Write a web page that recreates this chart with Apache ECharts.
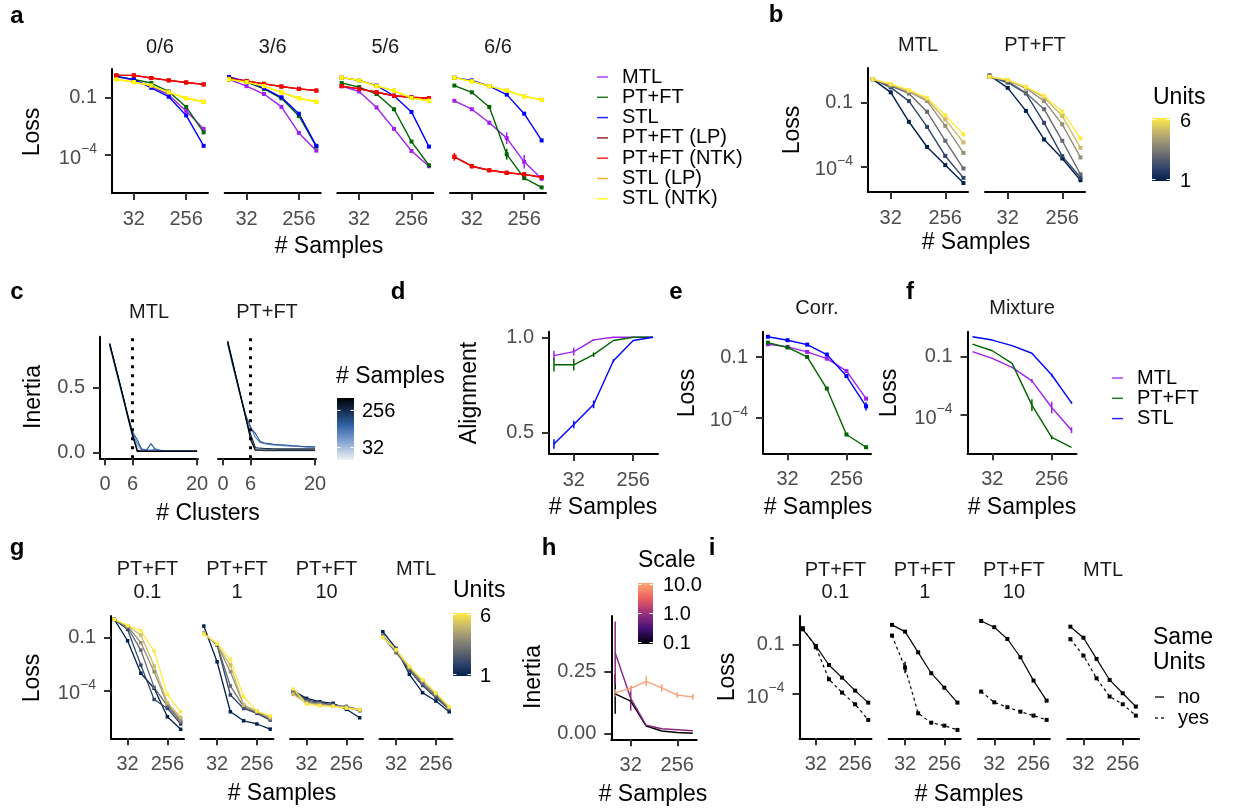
<!DOCTYPE html>
<html><head><meta charset="utf-8">
<script src="https://cdn.jsdelivr.net/npm/echarts@6/dist/echarts.min.js"></script>
<style>html,body{margin:0;padding:0;background:#fff}#c{width:1246px;height:809px}</style>
</head><body><div id="c"></div>
<script>
// ================= DATA =================
// x values: number of samples (log2 axis); loss values stored as log10(loss)
const samples = [16, 32, 64, 128, 256, 512];
const sampleTicks = [32, 256];
const lossTicks = [-1, -4];          // log10 of 0.1 and 1e-4

// ---- panel a (facets 0/6, 3/6, 5/6, 6/6) ----
const aFacetLabels = ['0/6', '3/6', '5/6', '6/6'];
const aMethods = ['MTL', 'PT+FT', 'STL', 'PT+FT (LP)', 'PT+FT (NTK)', 'STL (LP)', 'STL (NTK)'];
const a0_MTL     = [0.09, -0.12, -0.42, -0.88, -1.71, -2.64];
const a0_PTFT    = [0.06, -0.07, -0.26, -0.70, -1.50, -2.82];
const a0_STL     = [0.09, -0.07, -0.51, -0.97, -1.94, -3.52];
const a0_PTFT_LP = [0.14, 0.14, 0.00, -0.12, -0.23, -0.33];
const a0_PTFT_NTK= [0.14, 0.14, 0.00, -0.12, -0.23, -0.33];
const a0_STL_LP  = [-0.07, -0.21, -0.39, -0.74, -1.05, -1.23];
const a0_STL_NTK = [-0.07, -0.21, -0.39, -0.74, -1.05, -1.23];

const a3_MTL     = [-0.07, -0.42, -0.83, -1.50, -2.85, -3.77];
const a3_PTFT    = [-0.07, -0.21, -0.56, -1.05, -1.97, -3.56];
const a3_STL     = [0.06, -0.17, -0.52, -1.00, -1.85, -3.52];
const a3_PTFT_LP = [-0.03, -0.15, -0.30, -0.44, -0.56, -0.65];
const a3_PTFT_NTK= [-0.03, -0.15, -0.30, -0.44, -0.56, -0.65];
const a3_STL_LP  = [-0.07, -0.21, -0.42, -0.74, -1.05, -1.23];
const a3_STL_NTK = [-0.07, -0.21, -0.42, -0.74, -1.05, -1.23];

const a5_MTL     = [-0.42, -0.70, -1.53, -2.64, -3.79, -4.58];
const a5_PTFT    = [-0.26, -0.47, -0.83, -1.62, -3.30, -4.53];
const a5_STL     = [0.02, -0.12, -0.39, -0.92, -1.76, -3.56];
const a5_PTFT_LP = [-0.42, -0.56, -0.74, -0.92, -1.00, -1.05];
const a5_PTFT_NTK= [-0.42, -0.56, -0.74, -0.92, -1.00, -1.05];
const a5_STL_LP  = [0.02, -0.12, -0.42, -0.65, -1.04, -1.18];
const a5_STL_NTK = [0.02, -0.12, -0.42, -0.65, -1.04, -1.18];

const a6_MTL     = [-1.18, -1.62, -2.32, -3.12, -4.35, -5.23];
const a6_PTFT    = [-0.39, -0.74, -1.50, -3.96, -5.20, -5.68];
const a6_STL     = [0.02, -0.12, -0.42, -0.86, -1.85, -3.24];
const a6_PTFT_LP = [-4.09, -4.58, -4.79, -4.92, -5.00, -5.15];
const a6_PTFT_NTK= [-4.09, -4.58, -4.79, -4.92, -5.00, -5.15];
const a6_STL_LP  = [0.02, -0.17, -0.42, -0.65, -0.95, -1.13];
const a6_STL_NTK = [0.02, -0.17, -0.42, -0.65, -0.95, -1.13];
const a6_MTL_err  = [0, 0, 0.1, 0.3, 0.35, 0.1];
const a6_PTFT_err = [0, 0, 0, 0.28, 0.1, 0.05];
const a6_NTK_err  = [0.2, 0.1, 0, 0, 0, 0.08];

// ---- panel b (units 1..6) ----
const unitLabels = [1, 2, 3, 4, 5, 6];
const bMTL_u1 = [0.11, -0.51, -1.89, -3.07, -3.92, -4.76];
const bMTL_u2 = [0.11, -0.28, -0.92, -2.13, -3.49, -4.52];
const bMTL_u3 = [0.11, -0.22, -0.56, -1.42, -2.78, -4.08];
const bMTL_u4 = [0.11, -0.17, -0.48, -0.92, -2.08, -3.35];
const bMTL_u5 = [0.11, -0.14, -0.45, -0.83, -1.78, -2.86];
const bMTL_u6 = [0.11, -0.12, -0.40, -0.77, -1.58, -2.48];
const bPT_u1 = [0.28, -0.30, -1.38, -2.72, -3.61, -4.63];
const bPT_u2 = [0.22, -0.05, -0.56, -1.94, -3.50, -4.50];
const bPT_u3 = [0.22, 0.00, -0.53, -1.30, -2.78, -4.35];
const bPT_u4 = [0.22, 0.05, -0.32, -0.91, -2.01, -3.56];
const bPT_u5 = [0.22, 0.07, -0.28, -0.75, -1.62, -3.11];
const bPT_u6 = [0.22, 0.08, -0.25, -0.67, -1.42, -2.67];

// ---- panel c (inertia vs # clusters, lines per # samples) ----
const clusters = [1,2,3,4,5,6,7,8,9,10,11,12,13,14,15,16,17,18,19,20];
const cTicks = [0, 6, 20];
const cSampleLines = [32, 64, 128, 256, 512];
const cMTL_32  = [0.82,0.68,0.54,0.40,0.26,0.11,0.05,0.02,0.02,0.015,0.015,0.015,0.015,0.015,0.015,0.015,0.015,0.015,0.015,0.015];
const cMTL_64  = [0.83,0.69,0.55,0.41,0.27,0.15,0.07,0.03,0.02,0.02,0.03,0.02,0.015,0.015,0.015,0.015,0.015,0.015,0.015,0.015];
const cMTL_128 = [0.84,0.70,0.56,0.42,0.28,0.16,0.10,0.02,0.02,0.07,0.02,0.015,0.015,0.015,0.015,0.015,0.015,0.015,0.015,0.015];
const cMTL_256 = [0.84,0.70,0.56,0.42,0.28,0.14,0.02,0.012,0.012,0.012,0.012,0.012,0.012,0.012,0.012,0.012,0.012,0.012,0.012,0.012];
const cMTL_512 = [0.84,0.70,0.56,0.42,0.27,0.13,0.01,0.01,0.01,0.01,0.01,0.01,0.01,0.01,0.01,0.01,0.01,0.01,0.01,0.01];
const cPT_32  = [0.83,0.68,0.54,0.40,0.26,0.12,0.03,0.02,0.015,0.015,0.015,0.015,0.015,0.015,0.015,0.015,0.015,0.015,0.015,0.015];
const cPT_64  = [0.84,0.69,0.55,0.41,0.28,0.20,0.12,0.08,0.07,0.065,0.06,0.058,0.055,0.053,0.05,0.05,0.048,0.046,0.045,0.044];
const cPT_128 = [0.85,0.70,0.55,0.41,0.28,0.19,0.15,0.09,0.075,0.07,0.065,0.062,0.06,0.058,0.055,0.053,0.05,0.048,0.046,0.045];
const cPT_256 = [0.85,0.70,0.56,0.41,0.26,0.14,0.04,0.035,0.033,0.032,0.031,0.03,0.03,0.03,0.03,0.03,0.03,0.03,0.03,0.03];
const cPT_512 = [0.86,0.71,0.56,0.41,0.26,0.10,0.02,0.02,0.02,0.02,0.02,0.02,0.02,0.02,0.02,0.02,0.02,0.02,0.02,0.02];

// ---- panel d (alignment) ----
const d_MTL  = [0.904, 0.925, 0.986, 1.0, 1.0, 1.0];
const d_PTFT = [0.856, 0.856, 0.909, 0.983, 1.0, 1.0];
const d_STL  = [0.442, 0.544, 0.649, 0.877, 0.983, 1.0];
const d_MTL_err  = [0.025, 0.02, 0.005, 0, 0, 0];
const d_PTFT_err = [0.035, 0.03, 0.012, 0, 0, 0];
const d_STL_err  = [0.025, 0.02, 0.02, 0.008, 0, 0];

// ---- panel e (Corr.) and f (Mixture) ----
const efMethods = ['MTL', 'PT+FT', 'STL'];
const e_MTL  = [-0.37, -0.50, -0.75, -1.08, -1.69, -3.06];
const e_PTFT = [-0.29, -0.53, -1.00, -2.56, -4.83, -5.46];
const e_STL  = [0.00, -0.17, -0.39, -0.88, -1.94, -3.44];
const e_STL_err = [0, 0, 0, 0, 0.05, 0.2];
const f_MTL  = [-0.74, -1.08, -1.55, -2.24, -3.61, -4.78];
const f_PTFT = [-0.35, -0.69, -1.34, -3.49, -5.15, -5.67];
const f_STL  = [0.03, -0.14, -0.43, -0.82, -1.94, -3.37];
const f_MTL_err  = [0, 0, 0, 0.1, 0.3, 0.15];
const f_PTFT_err = [0, 0, 0, 0.3, 0.1, 0];
const f_STL_err  = [0, 0, 0, 0, 0.08, 0.05];

// ---- panel g (facets PT+FT 0.1, PT+FT 1, PT+FT 10, MTL; units 1..6) ----
const gFacetLabels = [['PT+FT', '0.1'], ['PT+FT', '1'], ['PT+FT', '10'], ['MTL']];
const g1_u1 = [0.04, -1.17, -3.01, -3.86, -5.47, -6.18];
const g1_u2 = [0.04, -0.53, -2.55, -4.49, -5.00, -5.88];
const g1_u3 = [0.04, -0.41, -1.70, -3.81, -4.85, -5.75];
const g1_u4 = [0.04, -0.35, -1.28, -2.92, -4.75, -5.66];
const g1_u5 = [0.04, -0.32, -0.85, -2.60, -4.68, -5.51];
const g1_u6 = [0.04, -0.30, -0.60, -1.75, -4.20, -5.19];
const g2_u1 = [-0.34, -2.36, -5.19, -5.70, -5.88, -6.17];
const g2_u2 = [-0.75, -1.41, -4.24, -5.00, -5.28, -5.66];
const g2_u3 = [-0.75, -1.41, -3.73, -4.90, -5.22, -5.60];
const g2_u4 = [-0.75, -1.37, -2.92, -4.81, -5.19, -5.56];
const g2_u5 = [-0.75, -1.37, -2.55, -4.81, -5.15, -5.50];
const g2_u6 = [-0.80, -1.32, -2.22, -4.34, -5.15, -5.41];
const g3_u1 = [-4.00, -4.43, -4.62, -4.71, -5.05, -5.53];
const g3_u2 = [-4.06, -4.53, -4.66, -4.81, -4.94, -5.13];
const g3_u3 = [-4.11, -4.60, -4.71, -4.81, -4.88, -5.07];
const g3_u4 = [-4.16, -4.66, -4.77, -4.85, -4.94, -5.07];
const g3_u5 = [-4.20, -4.71, -4.81, -4.88, -4.96, -5.07];
const g3_u6 = [-3.90, -4.75, -4.85, -4.88, -4.98, -5.07];
const g4_u1 = [-0.66, -1.60, -3.07, -4.11, -4.58, -5.19];
const g4_u2 = [-0.90, -1.75, -2.85, -3.70, -4.40, -5.05];
const g4_u3 = [-0.94, -1.85, -2.75, -3.60, -4.28, -5.00];
const g4_u4 = [-0.94, -1.75, -2.70, -3.45, -4.20, -4.95];
const g4_u5 = [-0.97, -1.70, -2.65, -3.40, -4.15, -4.92];
const g4_u6 = [-0.99, -1.66, -2.62, -3.38, -4.12, -4.90];

// ---- panel h (inertia, by scale) ----
const hScales = ['0.1', '1.0', '10.0'];
const h_01  = [0.161, 0.132, 0.031, 0.011, 0.005, 0.002];
const h_1   = [0.327, 0.143, 0.034, 0.020, 0.016, 0.012];
const h_10  = [0.165, 0.183, 0.212, 0.185, 0.156, 0.149];
const h_01_err = [0.08, 0, 0, 0, 0, 0];
const h_1_err  = [0.127, 0.05, 0, 0, 0, 0];
const h_10_err = [0.015, 0.012, 0.02, 0.015, 0.012, 0.012];

// ---- panel i (same units: no / yes) ----
const iFacetLabels = [['PT+FT', '0.1'], ['PT+FT', '1'], ['PT+FT', '10'], ['MTL']];
const i1_no  = [-0.05, -1.06, -2.22, -2.99, -3.78, -4.51];
const i1_yes = [0.02, -1.14, -3.09, -3.90, -4.61, -5.56];
const i2_no  = [0.22, -0.19, -1.45, -2.72, -3.60, -4.51];
const i2_yes = [-0.43, -2.38, -5.16, -5.73, -5.91, -6.17];
const i3_no  = [0.46, 0.08, -0.64, -1.75, -3.17, -4.39];
const i3_yes = [-3.84, -4.49, -4.79, -5.06, -5.30, -5.56];
const i4_no  = [0.11, -0.56, -1.85, -3.13, -3.94, -4.75];
const i4_yes = [-0.65, -1.65, -3.03, -4.14, -4.61, -5.30];
const i2_yes_err = [0, 0.35, 0, 0, 0, 0];

// ================= STYLE / BUILD =================
const FONT = '"Liberation Sans", Arial, Helvetica, sans-serif';
const LAB = '#4D4D4D';
const methodColors = ['#A020F0', '#006400', '#0000FF', '#8B0000', '#FF0000', '#FFA500', '#FFFF00'];
const cividis = ['#00204D', '#31446B', '#666970', '#958F78', '#CBBA69', '#FFEA46'];
const cSampleColors = ['#A9BEDF', '#5B87C6', '#2F5C9E', '#162F52', '#000000'];
const magma = ['#000004', '#862781', '#FB9F76'];

const grids = [], xAxes = [], yAxes = [], series = [], graphics = [];
const RICH = {
  b: {fontSize: 20, fontFamily: FONT, color: LAB, padding: [6, 0, 0, 0], verticalAlign: 'bottom'},
  s: {fontSize: 14, fontFamily: FONT, color: LAB, verticalAlign: 'top'}
};
const fmtSamples = v => String(Math.round(Math.pow(2, v)));
const fmtLoss = v => Math.abs(v + 1) < 1e-6 ? '0.1' : '{b|10}{s|\u2212' + Math.round(-v) + '}';
const X_TICKS = sampleTicks.map(Math.log2);

function axisCfg(dim, gi, min, max, ticks, fmt, show) {
  return {
    type: 'value', gridIndex: gi, min, max, show,
    position: dim === 'x' ? 'bottom' : 'left',
    axisLine: {show: true, onZero: false, lineStyle: {color: '#000', width: 2}},
    axisTick: {show: true, length: 7, customValues: ticks, lineStyle: {color: '#333', width: 2}},
    axisLabel: {show: true, customValues: ticks, formatter: fmt, color: LAB, fontSize: 20, fontFamily: FONT,
                margin: dim === 'x' ? 16 : 15, rich: RICH, hideOverlap: false},
    splitLine: {show: false}
  };
}
function addGrid(g) {
  const gi = grids.length;
  grids.push({left: g.left, top: g.top, width: g.width, height: g.height, containLabel: false});
  xAxes.push(axisCfg('x', gi, g.xmin, g.xmax, g.xTicks, g.xFmt, true));
  yAxes.push(axisCfg('y', gi, g.ymin, g.ymax, g.yTicks, g.yFmt, g.showY !== false));
  return gi;
}
function line(gi, xs, ys, color, opt) {
  opt = opt || {};
  return {
    type: 'line', xAxisIndex: gi, yAxisIndex: gi,
    data: xs.map((x, i) => [opt.raw ? x : Math.log2(x), ys[i]]),
    symbol: opt.noSym ? 'none' : 'rect', symbolSize: opt.sym || 4, showSymbol: !opt.noSym,
    lineStyle: {color, width: opt.width || 1.4, type: opt.dash || 'solid'},
    itemStyle: {color}, emphasis: {disabled: true}, silent: true, animation: false,
    markLine: opt.markLine
  };
}
function errBars(gi, xs, ys, errs, color) {
  const data = [];
  xs.forEach((x, i) => { if (errs[i] > 0) data.push([Math.log2(x), ys[i] - errs[i], ys[i] + errs[i]]); });
  return {
    type: 'custom', xAxisIndex: gi, yAxisIndex: gi, data, silent: true, animation: false,
    encode: {x: 0, y: [1, 2]},
    renderItem: (params, api) => {
      const a = api.coord([api.value(0), api.value(1)]);
      const b = api.coord([api.value(0), api.value(2)]);
      return {type: 'line', shape: {x1: a[0], y1: a[1], x2: b[0], y2: b[1]}, style: {stroke: color, lineWidth: 1.5}};
    }
  };
}
function txt(x, y, text, size, opt) {
  opt = opt || {};
  const align = opt.align || 'center';
  graphics.push({
    type: 'text', x, y, rotation: opt.rot || 0, silent: true,
    style: {text, font: (opt.bold ? 'bold ' : '') + size + 'px ' + FONT, fill: opt.color || '#000',
            align, textAlign: align, verticalAlign: 'middle', textVerticalAlign: 'middle'}
  });
}
function keyLine(x1, x2, y, color, dash) {
  graphics.push({type: 'line', silent: true, shape: {x1, y1: y, x2, y2: y},
    style: {stroke: color, lineWidth: 1.5, lineDash: dash || null, opacity: 0.85}});
}
function colorBar(x, y, w, h, stops) {
  graphics.push({type: 'rect', silent: true, shape: {x, y, width: w, height: h},
    style: {fill: {type: 'linear', x: 0, y: 0, x2: 0, y2: 1, colorStops: stops}}});
}
function barTick(x, w, y) {
  graphics.push({type: 'line', silent: true, shape: {x1: x, y1: y, x2: x + 3.5, y2: y}, style: {stroke: '#fff', lineWidth: 1}});
  graphics.push({type: 'line', silent: true, shape: {x1: x + w - 3.5, y1: y, x2: x + w, y2: y}, style: {stroke: '#fff', lineWidth: 1}});
}

const STRIP = 20, TITLE = 23, LEG = 20, LETTER = 24;
const lossAxis = {xmin: 3.75, xmax: 9.25, xTicks: X_TICKS, xFmt: fmtSamples, yTicks: lossTicks, yFmt: fmtLoss};

// ---------- panel a ----------
const aFacets = [
  [a0_MTL, a0_PTFT, a0_STL, a0_PTFT_LP, a0_PTFT_NTK, a0_STL_LP, a0_STL_NTK],
  [a3_MTL, a3_PTFT, a3_STL, a3_PTFT_LP, a3_PTFT_NTK, a3_STL_LP, a3_STL_NTK],
  [a5_MTL, a5_PTFT, a5_STL, a5_PTFT_LP, a5_PTFT_NTK, a5_STL_LP, a5_STL_NTK],
  [a6_MTL, a6_PTFT, a6_STL, a6_PTFT_LP, a6_PTFT_NTK, a6_STL_LP, a6_STL_NTK]
];
const aLefts = [112, 224.7, 337.3, 450];
aFacets.forEach((facet, fi) => {
  const gi = addGrid(Object.assign({left: aLefts[fi], top: 69, width: 96, height: 124, ymin: -5.97, ymax: 0.47, showY: fi === 0}, lossAxis));
  facet.forEach((ys, mi) => series.push(line(gi, samples, ys, methodColors[mi])));
  if (fi === 3) {
    series.push(errBars(gi, samples, a6_MTL, a6_MTL_err, methodColors[0]));
    series.push(errBars(gi, samples, a6_PTFT, a6_PTFT_err, methodColors[1]));
    series.push(errBars(gi, samples, a6_PTFT_NTK, a6_NTK_err, methodColors[4]));
  }
  txt(aLefts[fi] + 48, 47, aFacetLabels[fi], STRIP, {color: '#1A1A1A'});
});
txt(17, 16, 'a', LETTER, {bold: true});
txt(33, 132, 'Loss', TITLE, {rot: Math.PI / 2});
txt(329, 247, '# Samples', TITLE);
aMethods.forEach((m, i) => {
  const y = 77 + i * 20.3;
  keyLine(597, 608, y, methodColors[i]);
  txt(622, y, m, LEG, {align: 'left'});
});

// ---------- panel b ----------
const bFacets = [
  ['MTL', [bMTL_u1, bMTL_u2, bMTL_u3, bMTL_u4, bMTL_u5, bMTL_u6]],
  ['PT+FT', [bPT_u1, bPT_u2, bPT_u3, bPT_u4, bPT_u5, bPT_u6]]
];
const bLefts = [868, 985];
bFacets.forEach((f, fi) => {
  const gi = addGrid(Object.assign({left: bLefts[fi], top: 68, width: 100, height: 124, ymin: -5.18, ymax: 0.63, showY: fi === 0}, lossAxis));
  f[1].forEach((ys, ui) => series.push(line(gi, samples, ys, cividis[ui], {sym: 4})));
  txt(bLefts[fi] + 50, 45, f[0], STRIP, {color: '#1A1A1A'});
});
txt(776, 15, 'b', LETTER, {bold: true});
txt(793, 130, 'Loss', TITLE, {rot: Math.PI / 2});
txt(976, 243, '# Samples', TITLE);
txt(1153, 98, 'Units', TITLE, {align: 'left'});
colorBar(1152, 118, 18, 63, [{offset: 0, color: cividis[5]}, {offset: 0.2, color: cividis[4]}, {offset: 0.4, color: cividis[3]},
  {offset: 0.6, color: cividis[2]}, {offset: 0.8, color: cividis[1]}, {offset: 1, color: cividis[0]}]);
barTick(1152, 18, 119.5); barTick(1152, 18, 179.5);
txt(1180, 121, String(unitLabels[5]), LEG, {align: 'left'});
txt(1180, 181, String(unitLabels[0]), LEG, {align: 'left'});

// ---------- panel c ----------
const cFacets = [
  ['MTL', [cMTL_32, cMTL_64, cMTL_128, cMTL_256, cMTL_512]],
  ['PT+FT', [cPT_32, cPT_64, cPT_128, cPT_256, cPT_512]]
];
const cLefts = [100, 218];
cFacets.forEach((f, fi) => {
  const gi = addGrid({left: cLefts[fi], top: 336.7, width: 98, height: 121.6, xmin: -1.1, xmax: 20.2, ymin: -0.0425, ymax: 0.8925,
    xTicks: cTicks, xFmt: v => String(v), yTicks: [0, 0.5], yFmt: v => v.toFixed(1), showY: fi === 0});
  f[1].forEach((ys, si) => series.push(line(gi, clusters, ys, cSampleColors[si], {raw: true, noSym: true, width: 1.2,
    markLine: si === 0 ? {silent: true, symbol: 'none', animation: false, label: {show: false},
      lineStyle: {type: [3, 6], color: '#000', width: 3}, data: [{xAxis: 6}]} : undefined})));
  txt(cLefts[fi] + 49, 312, f[0], STRIP, {color: '#1A1A1A'});
});
txt(17, 292, 'c', LETTER, {bold: true});
txt(34, 397, 'Inertia', TITLE, {rot: Math.PI / 2});
txt(208, 514, '# Clusters', TITLE);
txt(336, 377, '# Samples', TITLE, {align: 'left'});
colorBar(337, 398, 17, 62, [{offset: 0, color: '#000000'}, {offset: 0.2, color: '#132B4F'}, {offset: 0.45, color: '#3465A8'},
  {offset: 0.72, color: '#8AA8D6'}, {offset: 1, color: '#F2F2F2'}]);
barTick(337, 17, 410.4); barTick(337, 17, 447.6);
txt(362, 411, String(cSampleLines[3]), LEG, {align: 'left'});
txt(362, 448, String(cSampleLines[0]), LEG, {align: 'left'});

// ---------- panel d ----------
{
  const gi = addGrid({left: 549, top: 331.7, width: 109, height: 122.3, xmin: 3.75, xmax: 9.25, xTicks: X_TICKS, xFmt: fmtSamples,
    ymin: 0.39, ymax: 1.029, yTicks: [0.5, 1.0], yFmt: v => v.toFixed(1)});
  [[d_MTL, d_MTL_err], [d_PTFT, d_PTFT_err], [d_STL, d_STL_err]].forEach((p, i) => {
    series.push(line(gi, samples, p[0], methodColors[i], {noSym: true}));
    series.push(errBars(gi, samples, p[0], p[1], methodColors[i]));
  });
}
txt(398, 292, 'd', LETTER, {bold: true});
txt(470, 393, 'Alignment', TITLE, {rot: Math.PI / 2});
txt(603, 508, '# Samples', TITLE);

// ---------- panel e ----------
{
  const gi = addGrid(Object.assign({left: 763, top: 331.7, width: 108, height: 121.6, ymin: -5.76, ymax: 0.25}, lossAxis));
  [e_MTL, e_PTFT, e_STL].forEach((ys, i) => series.push(line(gi, samples, ys, methodColors[i])));
  series.push(errBars(gi, samples, e_STL, e_STL_err, methodColors[2]));
  txt(817, 308, 'Corr.', STRIP, {color: '#1A1A1A'});
}
txt(676, 292, 'e', LETTER, {bold: true});
txt(688, 393, 'Loss', TITLE, {rot: Math.PI / 2});
txt(818, 508, '# Samples', TITLE);

// ---------- panel f ----------
{
  const gi = addGrid(Object.assign({left: 967.5, top: 331.7, width: 109, height: 121.6, ymin: -5.97, ymax: 0.29}, lossAxis));
  [[f_MTL, f_MTL_err], [f_PTFT, f_PTFT_err], [f_STL, f_STL_err]].forEach((p, i) => {
    series.push(line(gi, samples, p[0], methodColors[i], {noSym: true}));
    series.push(errBars(gi, samples, p[0], p[1], methodColors[i]));
  });
  txt(1022, 308, 'Mixture', STRIP, {color: '#1A1A1A'});
}
txt(910, 292, 'f', LETTER, {bold: true});
txt(890, 393, 'Loss', TITLE, {rot: Math.PI / 2});
txt(1022, 508, '# Samples', TITLE);
efMethods.forEach((m, i) => {
  const y = 378 + i * 20.3;
  keyLine(1112, 1123, y, methodColors[i]);
  txt(1137, y, m, LEG, {align: 'left'});
});

// ---------- panel g ----------
const gFacets = [
  [g1_u1, g1_u2, g1_u3, g1_u4, g1_u5, g1_u6],
  [g2_u1, g2_u2, g2_u3, g2_u4, g2_u5, g2_u6],
  [g3_u1, g3_u2, g3_u3, g3_u4, g3_u5, g3_u6],
  [g4_u1, g4_u2, g4_u3, g4_u4, g4_u5, g4_u6]
];
const gLefts = [111, 200.5, 290, 379.5];
gFacets.forEach((facet, fi) => {
  const gi = addGrid(Object.assign({left: gLefts[fi], top: 616, width: 73, height: 122.3, ymin: -6.69, ymax: 0.23, showY: fi === 0}, lossAxis));
  facet.forEach((ys, ui) => series.push(line(gi, samples, ys, cividis[ui], {sym: 3.5, width: 1.3})));
  gFacetLabels[fi].forEach((t, li) => txt(gLefts[fi] + 36.5, 569.5 + li * 22.5, t, STRIP, {color: '#1A1A1A'}));
});
txt(17, 548, 'g', LETTER, {bold: true});
txt(33, 678, 'Loss', TITLE, {rot: Math.PI / 2});
txt(282, 794, '# Samples', TITLE);
txt(453, 591, 'Units', TITLE, {align: 'left'});
colorBar(453, 613, 18, 63, [{offset: 0, color: cividis[5]}, {offset: 0.2, color: cividis[4]}, {offset: 0.4, color: cividis[3]},
  {offset: 0.6, color: cividis[2]}, {offset: 0.8, color: cividis[1]}, {offset: 1, color: cividis[0]}]);
barTick(453, 18, 614.5); barTick(453, 18, 674.5);
txt(480, 616, String(unitLabels[5]), LEG, {align: 'left'});
txt(480, 676, String(unitLabels[0]), LEG, {align: 'left'});

// ---------- panel h ----------
{
  const gi = addGrid({left: 611.3, top: 616, width: 85.4, height: 123.3, xmin: 3.75, xmax: 9.25, xTicks: X_TICKS, xFmt: fmtSamples,
    ymin: -0.0227, ymax: 0.476, yTicks: [0, 0.25], yFmt: v => v.toFixed(2)});
  [[h_01, h_01_err], [h_1, h_1_err], [h_10, h_10_err]].forEach((p, i) => {
    series.push(line(gi, samples, p[0], magma[i], {noSym: true}));
    series.push(errBars(gi, samples, p[0], p[1], magma[i]));
  });
}
txt(549, 548, 'h', LETTER, {bold: true});
txt(534, 677, 'Inertia', TITLE, {rot: Math.PI / 2});
txt(653, 795, '# Samples', TITLE);
txt(638, 561, 'Scale', TITLE, {align: 'left'});
colorBar(638, 583, 15, 61, [{offset: 0, color: '#FEA873'}, {offset: 0.25, color: '#EC5F5F'}, {offset: 0.5, color: '#9B2E7F'},
  {offset: 0.75, color: '#451077'}, {offset: 1, color: '#000004'}]);
barTick(638, 15, 584.5); barTick(638, 15, 613.5); barTick(638, 15, 642.5);
txt(663, 585, hScales[2], LEG, {align: 'left'});
txt(663, 614, hScales[1], LEG, {align: 'left'});
txt(663, 643, hScales[0], LEG, {align: 'left'});

// ---------- panel i ----------
const iFacets = [[i1_no, i1_yes], [i2_no, i2_yes], [i3_no, i3_yes], [i4_no, i4_yes]];
const iLefts = [799.5, 888.7, 977.9, 1067.1];
iFacets.forEach((f, fi) => {
  const gi = addGrid(Object.assign({left: iLefts[fi], top: 616, width: 72, height: 122.3, ymin: -6.68, ymax: 0.76, showY: fi === 0}, lossAxis));
  series.push(line(gi, samples, f[0], '#000', {sym: 4, width: 1.2}));
  series.push(line(gi, samples, f[1], '#000', {sym: 4, width: 1.2, dash: [3, 3]}));
  if (fi === 1) series.push(errBars(gi, samples, f[1], i2_yes_err, '#000'));
  iFacetLabels[fi].forEach((t, li) => txt(iLefts[fi] + 36, 570 + li * 22, t, STRIP, {color: '#1A1A1A'}));
});
txt(712, 548, 'i', LETTER, {bold: true});
txt(728, 677, 'Loss', TITLE, {rot: Math.PI / 2});
txt(969, 795, '# Samples', TITLE);
txt(1153, 638, 'Same', TITLE, {align: 'left'});
txt(1153, 663, 'Units', TITLE, {align: 'left'});
keyLine(1155, 1164, 697, '#000');
keyLine(1155, 1166, 718, '#000', [3, 3]);
txt(1178, 697, 'no', LEG, {align: 'left'});
txt(1178, 718, 'yes', LEG, {align: 'left'});

const chart = echarts.init(document.getElementById('c'), null, {renderer: 'canvas'});
chart.setOption({
  animation: false,
  backgroundColor: '#ffffff',
  textStyle: {fontFamily: FONT},
  grid: grids, xAxis: xAxes, yAxis: yAxes, series: series, graphic: graphics
});
</script></body></html>
